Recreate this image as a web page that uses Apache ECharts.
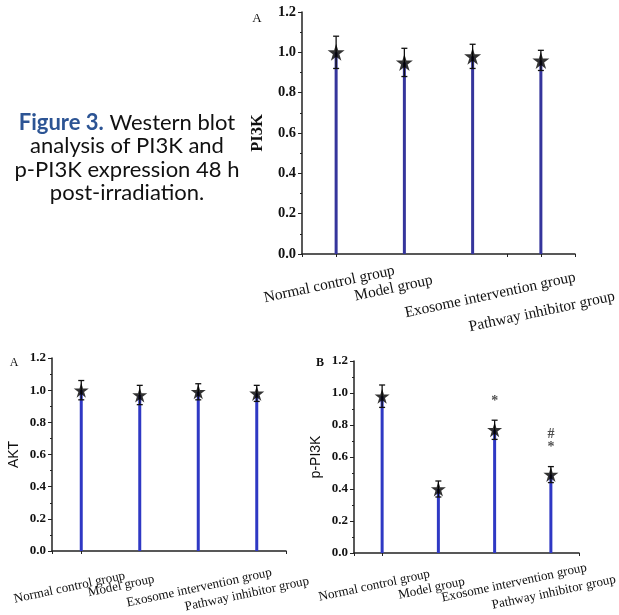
<!DOCTYPE html>
<html>
<head>
<meta charset="utf-8">
<script src="https://cdn.jsdelivr.net/npm/echarts@6/dist/echarts.min.js"></script>
<style>
  html, body { margin: 0; padding: 0; background: #fff; }
  #chart { width: 619px; height: 615px; }
</style>
</head>
<body>
<div id="chart"></div>
<script>
  const groups = ["Normal control group", "Model group", "Exosome intervention group", "Pathway inhibitor group"];

  const pi3kMean = [1.00, 0.95, 0.98, 0.96];
  const pi3kSd = [0.08, 0.07, 0.06, 0.05];

  const aktMean = [1.00, 0.97, 0.99, 0.98];
  const aktSd = [0.06, 0.06, 0.05, 0.05];

  const pPi3kMean = [0.98, 0.40, 0.77, 0.49];
  const pPi3kSd = [0.07, 0.05, 0.06, 0.05];
  // significance marks: [group index, height, symbol]
  const pPi3kMarks = [[2, 0.95, "*"], [3, 0.74, "#"], [3, 0.66, "*"]];

  const yMin = 0, yMax = 1.2, yStep = 0.2;

  const captionLines = ["{b|Figure 3.} Western blot", "analysis of PI3K and", "p-PI3K expression 48 h", "post-irradiation."];

  const SERIF = "Liberation Serif";
  const SANS = "Liberation Sans";
  const STAR = "path://M50,0 L61.2,34.5 L97.6,34.5 L68.2,55.9 L79.4,90.5 L50,69.1 L20.6,90.5 L31.8,55.9 L2.4,34.5 L38.8,34.5 Z";

  const chart = echarts.init(document.getElementById("chart"));

  // layout of the three panels; shift = label offset [dx, dy] from group tick
  const panels = [
    {
      name: "PI3K", nameFont: SERIF, nameWeight: "bold", nameSize: 16.5, nameGap: 36,
      grid: { left: 302, top: 12, width: 273, height: 242 },
      mean: pi3kMean, sd: pi3kSd, marks: [],
      barColor: "#35359c", star: 17, tickFont: 14.5, labelFont: 15.3,
      shift: [[-7, 29], [-11, 32], [18, 45], [1, 58]]
    },
    {
      name: "AKT", nameFont: SANS, nameWeight: "normal", nameSize: 14, nameGap: 31,
      grid: { left: 52, top: 358, width: 234, height: 193 },
      mean: aktMean, sd: aktSd, marks: [],
      barColor: "#2f38c4", star: 15, tickFont: 13, labelFont: 13,
      shift: [[-12, 34], [-19, 31], [1, 37], [-10, 41]]
    },
    {
      name: "p-PI3K", nameFont: SANS, nameWeight: "normal", nameSize: 14, nameGap: 31,
      grid: { left: 354, top: 361, width: 225, height: 192 },
      mean: pPi3kMean, sd: pPi3kSd, marks: pPi3kMarks,
      barColor: "#2f38c4", star: 15, tickFont: 13, labelFont: 13,
      shift: [[-8, 31], [-7, 34], [20, 34], [3, 40]]
    }
  ];

  const grids = [], xAxes = [], yAxes = [], series = [];

  panels.forEach((p, i) => {
    grids.push(Object.assign({ outerBoundsMode: "none" }, p.grid));

    const xi = xAxes.length;

    // main category axis: line and ticks between groups
    xAxes.push({
      type: "category",
      gridIndex: i,
      position: "bottom",
      data: groups,
      axisLine: { lineStyle: { color: "#222", width: 1.5 } },
      axisTick: { show: true, length: 3, lineStyle: { color: "#222" } },
      axisLabel: { show: false },
      splitLine: { show: false }
    });
    // ticks under each group
    xAxes.push({
      type: "category",
      gridIndex: i,
      position: "bottom",
      data: groups,
      axisLine: { show: false },
      axisTick: { show: true, alignWithLabel: true, length: 3, lineStyle: { color: "#222" } },
      axisLabel: { show: false },
      splitLine: { show: false }
    });
    // one label axis per group, so each label gets its own offset
    groups.forEach((g, k) => {
      const dx = p.shift[k][0], dy = p.shift[k][1];
      xAxes.push({
        type: "category",
        gridIndex: i,
        position: "bottom",
        data: groups,
        axisLine: { show: false },
        axisTick: { show: false },
        axisLabel: {
          interval: idx => idx === k,
          rotate: 12, align: "center", verticalAlign: "middle",
          margin: dy,
          padding: [0, dx < 0 ? -2 * dx : 0, 0, dx > 0 ? 2 * dx : 0],
          fontFamily: SERIF, fontSize: p.labelFont, color: "#111"
        },
        splitLine: { show: false }
      });
    });

    yAxes.push({
      type: "value",
      gridIndex: i,
      min: yMin, max: yMax, interval: yStep,
      name: p.name,
      nameLocation: "middle",
      nameRotate: 90,
      nameGap: p.nameGap,
      nameTextStyle: { fontFamily: p.nameFont, fontWeight: p.nameWeight, fontSize: p.nameSize, color: "#111" },
      axisLine: { show: true, lineStyle: { color: "#222", width: 1.5 } },
      axisTick: { show: true, length: 4, lineStyle: { color: "#222" } },
      minorTick: { show: true, splitNumber: 2, length: 2, lineStyle: { color: "#222" } },
      axisLabel: {
        formatter: v => v.toFixed(1), margin: 6,
        fontFamily: SERIF, fontWeight: "bold", fontSize: p.tickFont, color: "#111"
      },
      splitLine: { show: false }
    });

    series.push({
      type: "bar",
      xAxisIndex: xi, yAxisIndex: i,
      data: p.mean,
      barWidth: 3,
      itemStyle: { color: p.barColor },
      z: 1
    });

    series.push({
      type: "custom",
      xAxisIndex: xi, yAxisIndex: i,
      data: p.mean.map((m, k) => [k, m - p.sd[k], m + p.sd[k]]),
      renderItem: (params, api) => {
        const lo = api.coord([api.value(0), api.value(1)]);
        const hi = api.coord([api.value(0), api.value(2)]);
        const c = 3;
        const st = { stroke: "#111", lineWidth: 1.3 };
        return {
          type: "group",
          children: [
            { type: "line", shape: { x1: lo[0], y1: lo[1], x2: hi[0], y2: hi[1] }, style: st },
            { type: "line", shape: { x1: hi[0] - c, y1: hi[1], x2: hi[0] + c, y2: hi[1] }, style: st },
            { type: "line", shape: { x1: lo[0] - c, y1: lo[1], x2: lo[0] + c, y2: lo[1] }, style: st }
          ]
        };
      },
      z: 2
    });

    series.push({
      type: "scatter",
      xAxisIndex: xi, yAxisIndex: i,
      data: p.mean.map((m, k) => [k, m]),
      symbol: STAR,
      symbolSize: p.star,
      itemStyle: { color: "#000" },
      z: 3
    });

    if (p.marks.length) {
      series.push({
        type: "scatter",
        xAxisIndex: xi, yAxisIndex: i,
        data: p.marks.map(m => ({ value: [m[0], m[1]], label: { formatter: m[2] } })),
        symbolSize: 0,
        label: {
          show: true, position: "inside",
          fontFamily: SERIF, fontWeight: "bold", fontSize: 14, color: "#222"
        },
        z: 4
      });
    }
  });

  const graphics = [
    {
      type: "text", x: 127, y: 111,
      style: {
        text: captionLines.join("\n"),
        align: "center", verticalAlign: "top",
        fontFamily: "Lato", fontSize: 22, lineHeight: 23.5, fill: "#111",
        rich: { b: { fontFamily: "Lato", fontWeight: "bold", fontSize: 22, fill: "#2c5494" } }
      }
    },
    { type: "text", x: 257, y: 19, style: { text: "A", fontFamily: SERIF, fontSize: 13, align: "center", verticalAlign: "middle", fill: "#111" } },
    { type: "text", x: 14, y: 363, style: { text: "A", fontFamily: SERIF, fontSize: 12, align: "center", verticalAlign: "middle", fill: "#111" } },
    { type: "text", x: 320, y: 363, style: { text: "B", fontFamily: SERIF, fontWeight: "bold", fontSize: 12, align: "center", verticalAlign: "middle", fill: "#111" } }
  ];

  chart.setOption({
    animation: false,
    backgroundColor: "#fff",
    grid: grids,
    xAxis: xAxes,
    yAxis: yAxes,
    series: series,
    graphic: graphics
  });
</script>
</body>
</html>
